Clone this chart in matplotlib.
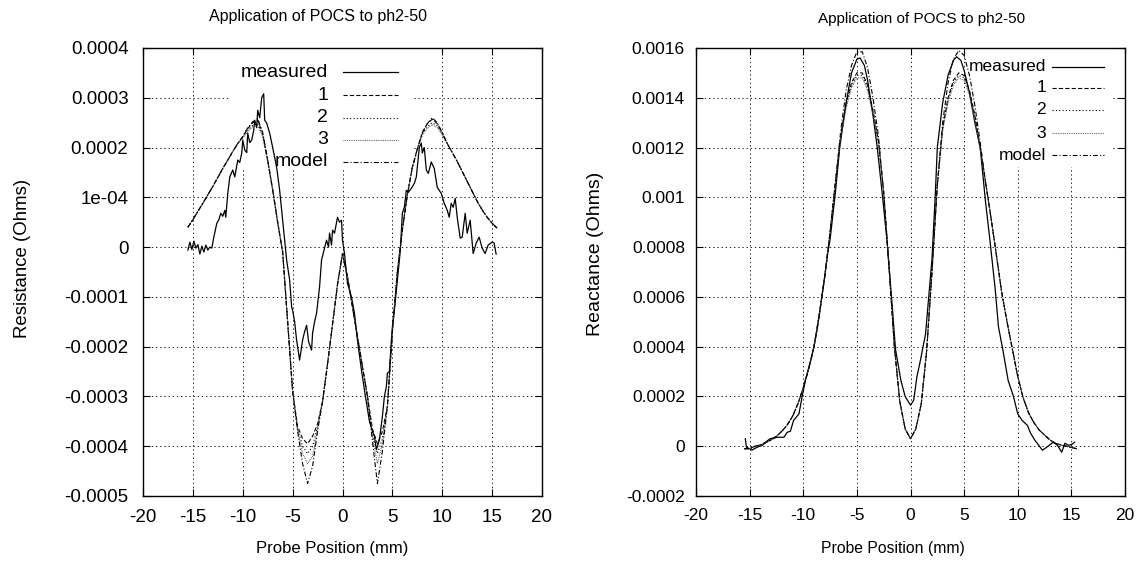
import matplotlib
matplotlib.use("Agg")
import matplotlib.pyplot as plt
from matplotlib.patches import Rectangle
from matplotlib.ticker import FixedLocator, FixedFormatter

plt.rcParams['font.family'] = ['Liberation Sans', 'DejaVu Sans']
plt.rcParams['lines.scale_dashes'] = False

# ---------------- data ----------------
pos = [-15.5, -15.0, -14.5, -14.0, -13.5, -13.0, -12.5, -12.0, -11.5, -11.0, -10.5,
       -10.0, -9.5, -9.0, -8.5, -8.0, -7.5, -7.0, -6.5, -6.0, -5.5, -5.0, -4.5, -4.0,
       -3.5, -3.0, -2.5, -2.0, -1.5, -1.0, -0.5, 0.0, 0.5, 1.0, 1.5, 2.0, 2.5, 3.0,
       3.5, 4.0, 4.5, 5.0, 5.5, 6.0, 6.5, 7.0, 7.5, 8.0, 8.5, 9.0, 9.5, 10.0, 10.5,
       11.0, 11.5, 12.0, 12.5, 13.0, 13.5, 14.0, 14.5, 15.0, 15.5]

# Resistance (Ohms)
res_model = [0.40e-4, 0.55e-4, 0.72e-4, 0.88e-4, 1.05e-4, 1.22e-4, 1.40e-4, 1.58e-4, 1.75e-4, 1.92e-4, 2.08e-4,
             2.22e-4, 2.40e-4, 2.52e-4, 2.58e-4, 2.30e-4, 1.75e-4, 1.15e-4, 0.50e-4, -0.10e-4, -1.50e-4, -2.90e-4, -3.70e-4, -4.35e-4,
             -4.75e-4, -4.40e-4, -3.70e-4, -3.10e-4, -2.35e-4, -1.55e-4, -0.75e-4, -0.13e-4, -0.60e-4, -1.20e-4, -1.80e-4, -2.40e-4, -3.00e-4, -3.90e-4,
             -4.75e-4, -4.10e-4, -3.20e-4, -1.70e-4, -0.50e-4, 0.35e-4, 1.05e-4, 1.60e-4, 1.97e-4, 2.30e-4, 2.48e-4, 2.60e-4, 2.50e-4, 2.30e-4, 2.08e-4,
             1.90e-4, 1.72e-4, 1.52e-4, 1.32e-4, 1.12e-4, 0.92e-4, 0.75e-4, 0.60e-4, 0.48e-4, 0.38e-4]
res_1 = [0.40e-4, 0.55e-4, 0.72e-4, 0.88e-4, 1.05e-4, 1.22e-4, 1.40e-4, 1.58e-4, 1.75e-4, 1.92e-4, 2.08e-4,
         2.22e-4, 2.38e-4, 2.50e-4, 2.55e-4, 2.28e-4, 1.75e-4, 1.15e-4, 0.50e-4, -0.10e-4, -1.50e-4, -2.90e-4, -3.60e-4, -3.85e-4,
         -3.95e-4, -3.80e-4, -3.55e-4, -3.10e-4, -2.35e-4, -1.55e-4, -0.75e-4, -0.13e-4, -0.60e-4, -1.20e-4, -1.80e-4, -2.40e-4, -3.00e-4, -3.65e-4,
         -3.95e-4, -3.70e-4, -3.20e-4, -1.70e-4, -0.50e-4, 0.35e-4, 1.05e-4, 1.60e-4, 1.97e-4, 2.30e-4, 2.48e-4, 2.57e-4, 2.48e-4, 2.30e-4, 2.08e-4,
         1.90e-4, 1.72e-4, 1.52e-4, 1.32e-4, 1.12e-4, 0.92e-4, 0.75e-4, 0.60e-4, 0.48e-4, 0.38e-4]
res_2 = [0.40e-4, 0.55e-4, 0.72e-4, 0.88e-4, 1.05e-4, 1.22e-4, 1.40e-4, 1.58e-4, 1.75e-4, 1.92e-4, 2.08e-4,
         2.20e-4, 2.34e-4, 2.45e-4, 2.48e-4, 2.25e-4, 1.73e-4, 1.15e-4, 0.50e-4, -0.10e-4, -1.50e-4, -2.90e-4, -3.65e-4, -4.00e-4,
         -4.15e-4, -4.00e-4, -3.60e-4, -3.10e-4, -2.35e-4, -1.55e-4, -0.75e-4, -0.13e-4, -0.60e-4, -1.20e-4, -1.80e-4, -2.40e-4, -3.00e-4, -3.75e-4,
         -4.15e-4, -3.85e-4, -3.20e-4, -1.70e-4, -0.50e-4, 0.35e-4, 1.05e-4, 1.60e-4, 1.97e-4, 2.27e-4, 2.42e-4, 2.50e-4, 2.44e-4, 2.27e-4, 2.08e-4,
         1.90e-4, 1.72e-4, 1.52e-4, 1.32e-4, 1.12e-4, 0.92e-4, 0.75e-4, 0.60e-4, 0.48e-4, 0.38e-4]
res_3 = [0.40e-4, 0.55e-4, 0.72e-4, 0.88e-4, 1.05e-4, 1.22e-4, 1.40e-4, 1.58e-4, 1.75e-4, 1.92e-4, 2.08e-4,
         2.20e-4, 2.32e-4, 2.42e-4, 2.44e-4, 2.22e-4, 1.72e-4, 1.15e-4, 0.50e-4, -0.10e-4, -1.50e-4, -2.90e-4, -3.68e-4, -4.15e-4,
         -4.35e-4, -4.20e-4, -3.65e-4, -3.10e-4, -2.35e-4, -1.55e-4, -0.75e-4, -0.13e-4, -0.60e-4, -1.20e-4, -1.80e-4, -2.40e-4, -3.00e-4, -3.82e-4,
         -4.35e-4, -3.95e-4, -3.20e-4, -1.70e-4, -0.50e-4, 0.35e-4, 1.05e-4, 1.60e-4, 1.97e-4, 2.25e-4, 2.38e-4, 2.46e-4, 2.40e-4, 2.25e-4, 2.08e-4,
         1.90e-4, 1.72e-4, 1.52e-4, 1.32e-4, 1.12e-4, 0.92e-4, 0.75e-4, 0.60e-4, 0.48e-4, 0.38e-4]

res_meas_pos = [-15.5, -15.3, -15.1, -14.9, -14.7, -14.5, -14.3, -14.1, -13.9, -13.7, -13.5, -13.3, -13.1,
                -12.9, -12.6, -12.4, -12.2, -12.0, -11.8, -11.7, -11.5, -11.3, -11.0, -10.8, -10.5, -10.3,
                -10.1, -10.0, -9.8, -9.6, -9.5, -9.3, -9.1, -8.9, -8.8, -8.6, -8.5, -8.3, -8.1, -7.9, -7.8,
                -7.6, -7.3, -7.0, -6.6, -6.3, -6.0, -5.8, -5.6, -5.3, -5.1, -5.0, -4.8, -4.6, -4.3, -4.0,
                -3.8, -3.6, -3.4, -3.1, -3.0, -2.8, -2.6, -2.3, -2.1, -1.9, -1.6, -1.4, -1.3, -1.1, -1.0,
                -0.8, -0.5, -0.3, -0.1, 0.0, 0.2, 0.4, 0.5, 0.9, 1.2, 1.5, 1.9, 2.3, 2.7, 3.0, 3.2, 3.4,
                3.7, 4.0, 4.2, 4.4, 4.5, 4.7, 4.9, 5.0, 5.2, 5.5, 5.8, 6.0, 6.2, 6.4, 6.6, 6.9, 7.2, 7.4,
                7.5, 7.7, 7.9, 8.0, 8.2, 8.4, 8.6, 8.9, 9.2, 9.5, 9.9, 10.2, 10.5, 10.7, 10.9, 11.1, 11.3,
                11.5, 11.8, 12.0, 12.3, 12.5, 12.8, 13.1, 13.4, 13.7, 14.0, 14.3, 14.6, 15.0, 15.2, 15.4]
res_meas = [-0.06e-4, 0.10e-4, -0.05e-4, 0.12e-4, -0.02e-4, 0.05e-4, -0.14e-4, 0.02e-4, -0.10e-4, 0.04e-4, -0.06e-4, 0.00e-4, -0.02e-4,
            0.20e-4, 0.48e-4, 0.55e-4, 0.68e-4, 0.62e-4, 0.74e-4, 0.60e-4, 1.08e-4, 1.41e-4, 1.55e-4, 1.41e-4, 1.75e-4, 1.70e-4,
            1.89e-4, 2.15e-4, 1.95e-4, 1.90e-4, 2.29e-4, 2.10e-4, 2.15e-4, 2.35e-4, 2.55e-4, 2.40e-4, 2.75e-4, 2.60e-4, 3.00e-4, 3.08e-4, 2.55e-4,
            2.49e-4, 2.29e-4, 2.00e-4, 1.60e-4, 1.14e-4, 0.54e-4, 0.14e-4, -0.26e-4, -0.66e-4, -1.20e-4, -1.27e-4, -1.50e-4, -1.87e-4, -2.27e-4, -1.87e-4,
            -1.70e-4, -1.57e-4, -1.90e-4, -2.07e-4, -1.73e-4, -1.50e-4, -1.33e-4, -0.80e-4, -0.26e-4, -0.10e-4, 0.14e-4, 0.00e-4, 0.28e-4, 0.04e-4, 0.34e-4,
            0.28e-4, 0.60e-4, 0.50e-4, 0.54e-4, 0.14e-4, -0.13e-4, -0.53e-4, -0.73e-4, -1.00e-4, -1.33e-4, -1.87e-4, -2.47e-4, -3.00e-4, -3.50e-4, -3.70e-4, -3.80e-4, -4.07e-4,
            -3.87e-4, -3.40e-4, -3.00e-4, -2.80e-4, -2.53e-4, -2.50e-4, -1.87e-4, -1.60e-4, -1.27e-4, -0.66e-4, -0.06e-4, 0.68e-4, 0.80e-4, 1.14e-4, 1.10e-4, 1.18e-4, 1.28e-4, 1.41e-4,
            1.61e-4, 2.00e-4, 2.09e-4, 1.89e-4, 2.00e-4, 1.55e-4, 1.48e-4, 1.71e-4, 1.58e-4, 1.20e-4, 1.08e-4, 0.88e-4, 0.74e-4, 0.60e-4, 0.88e-4, 0.80e-4, 0.98e-4,
            0.60e-4, 0.18e-4, 0.20e-4, 0.68e-4, 0.28e-4, 0.54e-4, -0.13e-4, 0.08e-4, 0.20e-4, -0.02e-4, -0.13e-4, 0.04e-4, 0.10e-4, 0.08e-4, -0.14e-4]

# Reactance (Ohms)
rea_model = [-0.010e-3, -0.010e-3, 0.000e-3, 0.005e-3, 0.015e-3, 0.025e-3, 0.040e-3, 0.060e-3, 0.085e-3, 0.120e-3, 0.170e-3,
             0.235e-3, 0.310e-3, 0.400e-3, 0.530e-3, 0.680e-3, 0.860e-3, 1.060e-3, 1.270e-3, 1.430e-3, 1.530e-3, 1.585e-3, 1.585e-3, 1.520e-3,
             1.400e-3, 1.250e-3, 1.020e-3, 0.720e-3, 0.400e-3, 0.180e-3, 0.070e-3, 0.030e-3, 0.070e-3, 0.170e-3, 0.380e-3, 0.700e-3, 1.050e-3, 1.300e-3,
             1.460e-3, 1.555e-3, 1.590e-3, 1.570e-3, 1.490e-3, 1.370e-3, 1.220e-3, 1.060e-3, 0.920e-3, 0.770e-3, 0.620e-3, 0.500e-3, 0.390e-3, 0.280e-3, 0.195e-3,
             0.135e-3, 0.095e-3, 0.065e-3, 0.045e-3, 0.025e-3, 0.012e-3, 0.005e-3, 0.000e-3, -0.005e-3, -0.010e-3]
rea_1 = [-0.010e-3, -0.010e-3, 0.000e-3, 0.005e-3, 0.015e-3, 0.025e-3, 0.040e-3, 0.060e-3, 0.085e-3, 0.120e-3, 0.170e-3,
         0.235e-3, 0.310e-3, 0.400e-3, 0.530e-3, 0.680e-3, 0.860e-3, 1.060e-3, 1.250e-3, 1.380e-3, 1.460e-3, 1.500e-3, 1.500e-3, 1.450e-3,
         1.350e-3, 1.230e-3, 1.020e-3, 0.720e-3, 0.400e-3, 0.180e-3, 0.070e-3, 0.030e-3, 0.070e-3, 0.170e-3, 0.380e-3, 0.700e-3, 1.050e-3, 1.280e-3,
         1.400e-3, 1.470e-3, 1.500e-3, 1.490e-3, 1.430e-3, 1.330e-3, 1.200e-3, 1.060e-3, 0.920e-3, 0.770e-3, 0.620e-3, 0.500e-3, 0.390e-3, 0.280e-3, 0.195e-3,
         0.135e-3, 0.095e-3, 0.065e-3, 0.045e-3, 0.025e-3, 0.012e-3, 0.005e-3, 0.000e-3, -0.005e-3, -0.010e-3]
rea_2 = [-0.010e-3, -0.010e-3, 0.000e-3, 0.005e-3, 0.015e-3, 0.025e-3, 0.040e-3, 0.060e-3, 0.085e-3, 0.120e-3, 0.170e-3,
         0.235e-3, 0.310e-3, 0.400e-3, 0.530e-3, 0.680e-3, 0.860e-3, 1.060e-3, 1.245e-3, 1.370e-3, 1.450e-3, 1.490e-3, 1.490e-3, 1.440e-3,
         1.340e-3, 1.225e-3, 1.020e-3, 0.720e-3, 0.400e-3, 0.180e-3, 0.070e-3, 0.030e-3, 0.070e-3, 0.170e-3, 0.380e-3, 0.700e-3, 1.050e-3, 1.275e-3,
         1.390e-3, 1.460e-3, 1.490e-3, 1.480e-3, 1.420e-3, 1.320e-3, 1.195e-3, 1.060e-3, 0.920e-3, 0.770e-3, 0.620e-3, 0.500e-3, 0.390e-3, 0.280e-3, 0.195e-3,
         0.135e-3, 0.095e-3, 0.065e-3, 0.045e-3, 0.025e-3, 0.012e-3, 0.005e-3, 0.000e-3, -0.005e-3, -0.010e-3]
rea_3 = [-0.010e-3, -0.010e-3, 0.000e-3, 0.005e-3, 0.015e-3, 0.025e-3, 0.040e-3, 0.060e-3, 0.085e-3, 0.120e-3, 0.170e-3,
         0.235e-3, 0.310e-3, 0.400e-3, 0.530e-3, 0.680e-3, 0.860e-3, 1.060e-3, 1.240e-3, 1.360e-3, 1.440e-3, 1.480e-3, 1.480e-3, 1.430e-3,
         1.330e-3, 1.220e-3, 1.020e-3, 0.720e-3, 0.400e-3, 0.180e-3, 0.070e-3, 0.030e-3, 0.070e-3, 0.170e-3, 0.380e-3, 0.700e-3, 1.050e-3, 1.270e-3,
         1.380e-3, 1.450e-3, 1.480e-3, 1.470e-3, 1.410e-3, 1.310e-3, 1.190e-3, 1.060e-3, 0.920e-3, 0.770e-3, 0.620e-3, 0.500e-3, 0.390e-3, 0.280e-3, 0.195e-3,
         0.135e-3, 0.095e-3, 0.065e-3, 0.045e-3, 0.025e-3, 0.012e-3, 0.005e-3, 0.000e-3, -0.005e-3, -0.010e-3]

rea_meas_pos = [-15.4, -15.3, -15.0, -14.8, -14.3, -13.8, -13.4, -13.1, -12.4, -11.8, -11.5, -11.2, -10.9, -10.4,
                -10.1, -9.8, -9.3, -9.0, -8.7, -8.4, -8.1, -7.7, -7.5, -7.0, -6.6, -6.0, -5.5, -5.0, -4.7, -4.3,
                -4.0, -3.5, -3.1, -2.6, -2.2, -1.7, -1.4, -0.9, -0.5, 0.0, 0.3, 0.6, 0.9, 1.4, 1.7, 2.0, 2.3,
                2.5, 3.0, 3.5, 4.0, 4.3, 4.7, 5.0, 5.5, 6.0, 6.5, 7.0, 7.4, 7.9, 8.2, 8.6, 9.1, 9.6, 10.0,
                10.4, 10.9, 11.2, 11.6, 12.3, 12.7, 13.3, 13.7, 14.1, 14.4, 14.7, 15.0, 15.3]
rea_meas = [0.030e-3, -0.004e-3, -0.010e-3, -0.016e-3, -0.004e-3, 0.004e-3, 0.020e-3, 0.030e-3, 0.036e-3, 0.036e-3, 0.056e-3, 0.060e-3, 0.104e-3, 0.130e-3,
            0.200e-3, 0.265e-3, 0.345e-3, 0.400e-3, 0.470e-3, 0.560e-3, 0.650e-3, 0.780e-3, 0.830e-3, 1.020e-3, 1.200e-3, 1.380e-3, 1.500e-3, 1.555e-3, 1.560e-3, 1.530e-3,
            1.470e-3, 1.330e-3, 1.200e-3, 1.000e-3, 0.830e-3, 0.560e-3, 0.390e-3, 0.265e-3, 0.200e-3, 0.165e-3, 0.185e-3, 0.280e-3, 0.340e-3, 0.450e-3, 0.600e-3, 0.750e-3, 1.000e-3,
            1.200e-3, 1.380e-3, 1.490e-3, 1.550e-3, 1.565e-3, 1.550e-3, 1.510e-3, 1.420e-3, 1.300e-3, 1.200e-3, 0.980e-3, 0.830e-3, 0.630e-3, 0.480e-3, 0.390e-3, 0.265e-3, 0.200e-3, 0.130e-3,
            0.104e-3, 0.084e-3, 0.052e-3, 0.024e-3, -0.016e-3, -0.004e-3, 0.016e-3, 0.004e-3, -0.024e-3, 0.012e-3, 0.004e-3, 0.006e-3, 0.016e-3]

series_labels = ['measured', '1', '2', '3', 'model']
title_text = 'Application of POCS to ph2-50'
x_label = 'Probe Position (mm)'
res_label = 'Resistance (Ohms)'
rea_label = 'Reactance (Ohms)'
x_ticks = [-20, -15, -10, -5, 0, 5, 10, 15, 20]
x_ticklabels = ['-20', '-15', '-10', '-5', '0', '5', '10', '15', '20']
res_ticks = [-0.0005, -0.0004, -0.0003, -0.0002, -0.0001, 0.0, 0.0001, 0.0002, 0.0003, 0.0004]
res_ticklabels = ['-0.0005', '-0.0004', '-0.0003', '-0.0002', '-0.0001', '0', '1e-04', '0.0002', '0.0003', '0.0004']
rea_ticks = [-0.0002, 0.0, 0.0002, 0.0004, 0.0006, 0.0008, 0.001, 0.0012, 0.0014, 0.0016]
rea_ticklabels = ['-0.0002', '0', '0.0002', '0.0004', '0.0006', '0.0008', '0.001', '0.0012', '0.0014', '0.0016']

# ---------------- styles ----------------
styles = {
    'measured': dict(linestyle='-', color='black', lw=0.9),
    '1': dict(linestyle=(0, (3.0, 1.6)), color='black', lw=0.8),
    '2': dict(linestyle=(0, (0.8, 1.6)), color='black', lw=0.8),
    '3': dict(linestyle=(0, (0.6, 0.7)), color='#555555', lw=0.8),
    'model': dict(linestyle=(0, (3.5, 1.5, 0.8, 1.5)), color='black', lw=0.8),
}

fig = plt.figure(figsize=(11.37, 5.63), dpi=100)
W, H = 1137.0, 563.0


def px_axes(x0, x1, ytop, ybot):
    return [x0 / W, 1 - ybot / H, (x1 - x0) / W, (ybot - ytop) / H]


axL = fig.add_axes(px_axes(143, 542, 48, 496))
axR = fig.add_axes(px_axes(696, 1125, 48, 496))


def style_axes(ax, yticks, yticklabels, ylim, fs, ypad, xpad):
    ax.set_xlim(-20, 20)
    ax.set_ylim(*ylim)
    ax.xaxis.set_major_locator(FixedLocator(x_ticks))
    ax.xaxis.set_major_formatter(FixedFormatter(x_ticklabels))
    ax.yaxis.set_major_locator(FixedLocator(yticks))
    ax.yaxis.set_major_formatter(FixedFormatter(yticklabels))
    ax.tick_params(axis='both', which='both', direction='in', length=5, width=0.8,
                   top=True, right=True, labelsize=fs, colors='black')
    ax.tick_params(axis='y', pad=ypad)
    ax.tick_params(axis='x', pad=xpad)
    ax.set_axisbelow(True)
    ax.grid(True, linestyle=(0, (1.0, 2.0)), color='black', lw=0.6)
    for s in ax.spines.values():
        s.set_linewidth(1.0)
        s.set_zorder(5)


style_axes(axL, res_ticks, res_ticklabels, (-0.0005, 0.0004), 13.5, 10.5, 9.5)
style_axes(axR, rea_ticks, rea_ticklabels, (-0.0002, 0.0016), 12.5, 8, 8.5)

# legend background boxes (hide grid behind legend as in gnuplot)
axL.add_patch(Rectangle((0.218, 0.728), 0.456, 0.272, transform=axL.transAxes,
                        facecolor='white', edgecolor='none', zorder=1))
axR.add_patch(Rectangle((0.632, 0.734), 0.340, 0.266, transform=axR.transAxes,
                        facecolor='white', edgecolor='none', zorder=1))

# curves
axL.plot(res_meas_pos, res_meas, zorder=3, **styles['measured'])
axL.plot(pos, res_1, zorder=3, **styles['1'])
axL.plot(pos, res_2, zorder=3, **styles['2'])
axL.plot(pos, res_3, zorder=3, **styles['3'])
axL.plot(pos, res_model, zorder=3, **styles['model'])

axR.plot(rea_meas_pos, rea_meas, zorder=3, **styles['measured'])
axR.plot(pos, rea_1, zorder=3, **styles['1'])
axR.plot(pos, rea_2, zorder=3, **styles['2'])
axR.plot(pos, rea_3, zorder=3, **styles['3'])
axR.plot(pos, rea_model, zorder=3, **styles['model'])


# manual gnuplot-style legends (right-aligned labels, sample to the right)
def draw_key(ax, xtext, xs0, xs1, rows, fs):
    for lab, yy in zip(series_labels, rows):
        ax.text(xtext, yy, lab, transform=ax.transAxes, ha='right', va='center',
                fontsize=fs, zorder=4)
        ax.plot([xs0, xs1], [yy, yy], transform=ax.transAxes, zorder=4,
                clip_on=False, **styles[lab])


draw_key(axL, 0.464, 0.501, 0.639, [0.946, 0.895, 0.844, 0.795, 0.746], 14)
draw_key(axR, 0.816, 0.830, 0.951, [0.958, 0.911, 0.862, 0.810, 0.761], 12.5)

# titles and axis labels
fig.text(318 / W, 1 - 17 / H, title_text, ha='center', va='center', fontsize=11.5)
fig.text(922 / W, 1 - 19 / H, title_text, ha='center', va='center', fontsize=11)
fig.text(332 / W, 1 - 548 / H, x_label, ha='center', va='center', fontsize=12)
fig.text(893 / W, 1 - 549 / H, x_label, ha='center', va='center', fontsize=11.3)
fig.text(23 / W, 1 - 258 / H, res_label, ha='center', va='center', rotation=90, fontsize=13.4)
fig.text(596 / W, 1 - 254 / H, rea_label, ha='center', va='center', rotation=90, fontsize=14)

fig.savefig('out.png', dpi=100)
